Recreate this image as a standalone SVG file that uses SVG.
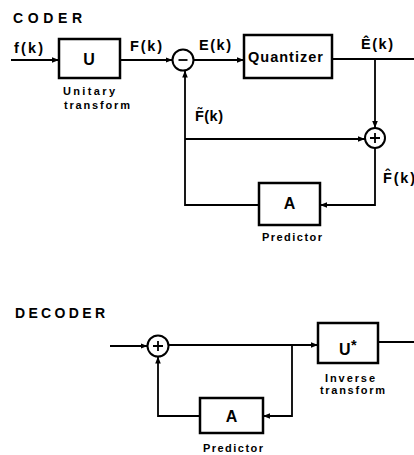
<svg xmlns="http://www.w3.org/2000/svg" width="414" height="455" viewBox="0 0 414 455">
<style>
text{font-family:"Liberation Sans",Arial,sans-serif;font-weight:bold;fill:#000}
.lbl{font-size:14.5px}
.big{font-size:16px}
.ttl{font-size:14px}
.sm{font-size:11px}
.box{fill:#fff;stroke:#000;stroke-width:2.5}
.sum{fill:#fff;stroke:#000;stroke-width:2}
.ln{fill:none;stroke:#000;stroke-width:1.8}
.c{text-anchor:middle}
</style>
<defs>
<marker id="ar" viewBox="0 0 10 10" refX="10" refY="5" markerWidth="7" markerHeight="7" markerUnits="userSpaceOnUse" orient="auto">
<path d="M0,1 L10,5 L0,9 z" fill="#000"/>
</marker>
</defs>
<rect width="414" height="455" fill="#fff"/>
<text class="ttl" x="13" y="23" textLength="69" lengthAdjust="spacing">CODER</text>
<text class="ttl" x="15" y="318" textLength="90" lengthAdjust="spacing">DECODER</text>
<g id="connectors">
<path class="ln" d="M11,60 H59" marker-end="url(#ar)"/>
<path class="ln" d="M120,60 H172.5" marker-end="url(#ar)"/>
<path class="ln" d="M193.5,60 H244" marker-end="url(#ar)"/>
<path class="ln" d="M332,59 H414"/>
<path class="ln" d="M375,59 V128" marker-end="url(#ar)"/>
<path class="ln" d="M375,148 V205 H320" marker-end="url(#ar)"/>
<path class="ln" d="M259,205 H185 V70.5" marker-end="url(#ar)"/>
<path class="ln" d="M185,139 H365" marker-end="url(#ar)"/>
<path class="ln" d="M110,346 H147.5" marker-end="url(#ar)"/>
<path class="ln" d="M168.5,345 H318" marker-end="url(#ar)"/>
<path class="ln" d="M378,342 H414"/>
<path class="ln" d="M292,345 V416 H263" marker-end="url(#ar)"/>
<path class="ln" d="M200,416 H158 V356.5" marker-end="url(#ar)"/>
</g>
<g id="U">
<rect class="box" x="59" y="39" width="61" height="39"/>
<text class="big c" x="89" y="65">U</text>
<text class="sm" x="63" y="95" textLength="52" lengthAdjust="spacing">Unitary</text>
<text class="sm" x="64" y="109" textLength="66" lengthAdjust="spacing">transform</text>
</g>
<g id="minus">
<circle class="sum" cx="183" cy="60" r="10.5"/>
<path class="ln" d="M178.5,60 H187.5"/>
</g>
<g id="quantizer">
<rect class="box" x="244" y="35" width="88" height="43"/>
<text class="lbl" x="248" y="62" textLength="75" lengthAdjust="spacing">Quantizer</text>
</g>
<g id="plus">
<circle class="sum" cx="375" cy="138" r="10"/>
<path class="ln" d="M370,138 H380 M375,133 V143"/>
</g>
<g id="predictor">
<rect class="box" x="259" y="183" width="61" height="42"/>
<text class="big c" x="289.5" y="209">A</text>
<text class="sm c" x="292" y="241" textLength="60" lengthAdjust="spacing">Predictor</text>
</g>
<g id="labels">
<text class="lbl" x="14" y="53" textLength="29" lengthAdjust="spacing">f(k)</text>
<text class="lbl" x="130" y="51" textLength="32" lengthAdjust="spacing">F(k)</text>
<text class="lbl" x="199" y="50" textLength="32" lengthAdjust="spacing">E(k)</text>
<text class="lbl" x="361" y="49" textLength="32" lengthAdjust="spacing">Ê(k)</text>
<text class="lbl" x="195" y="121" textLength="28" lengthAdjust="spacing">F̃(k)</text>
<text class="lbl" x="383" y="183" textLength="32" lengthAdjust="spacing">F̂(k)</text>
</g>
<g id="dplus">
<circle class="sum" cx="158" cy="346" r="10.5"/>
<path class="ln" d="M153,346 H163 M158,341 V351"/>
</g>
<g id="inverse">
<rect class="box" x="318" y="323" width="60" height="40"/>
<text class="big" x="339" y="355">U</text>
<text class="lbl" x="351" y="350">*</text>
<text class="sm" x="325" y="382" textLength="50" lengthAdjust="spacing">Inverse</text>
<text class="sm" x="320" y="394" textLength="65" lengthAdjust="spacing">transform</text>
</g>
<g id="dpredictor">
<rect class="box" x="200" y="398" width="63" height="35"/>
<text class="big c" x="231.5" y="422">A</text>
<text class="sm c" x="233" y="452" textLength="60" lengthAdjust="spacing">Predictor</text>
</g>
</svg>
